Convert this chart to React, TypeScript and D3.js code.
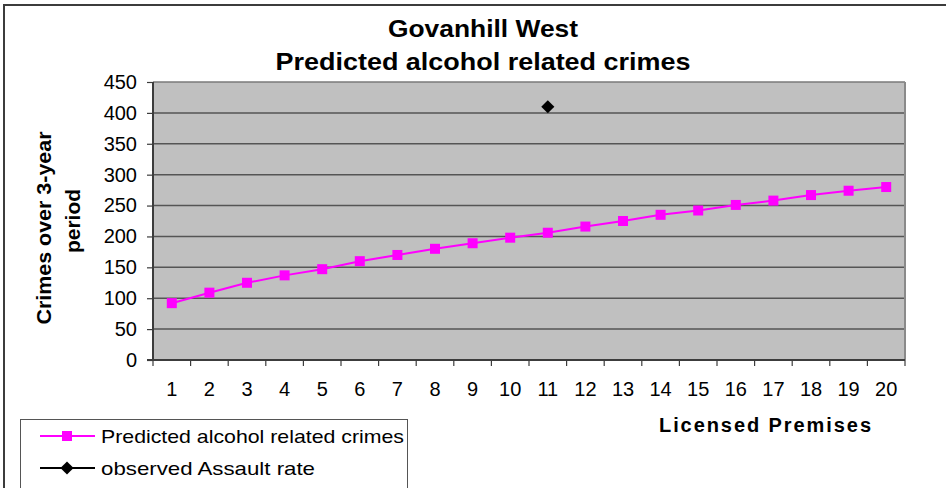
import React, { useEffect, useRef } from 'react';
import * as d3 from 'd3';

// Licensed premises on the x axis
const premises = [1, 2, 3, 4, 5, 6, 7, 8, 9, 10, 11, 12, 13, 14, 15, 16, 17, 18, 19, 20];

// Predicted alcohol related crimes per number of premises
const predicted = [92, 109, 125, 137, 147, 160, 170, 180, 189, 198, 206, 216, 225, 235, 242, 251, 258, 267, 274, 280];

// observed Assault rate (single point)
const observedPremises = [11];
const observedValues = [410];

const yTicks = [0, 50, 100, 150, 200, 250, 300, 350, 400, 450];

const FONT = "'Liberation Sans', Arial, sans-serif";

const App: React.FC = () => {
  const svgRef = useRef<SVGSVGElement>(null);

  useEffect(() => {
    if (!svgRef.current) return;
    const width = 946;
    const height = 488;
    const plot = { left: 153, right: 905, top: 82, bottom: 360 };

    const svg = d3.select(svgRef.current);
    svg.selectAll('*').remove();
    svg.attr('width', width).attr('height', height);

    // chart background + outer border (runs off right/bottom)
    svg.append('rect').attr('width', width).attr('height', height).attr('fill', '#ffffff');
    svg.append('rect')
      .attr('x', 4).attr('y', 5)
      .attr('width', width + 10).attr('height', height + 10)
      .attr('fill', 'none').attr('stroke', '#3c3c3c').attr('stroke-width', 2);

    const x = d3.scaleBand<number>()
      .domain(premises)
      .range([plot.left, plot.right]);
    const y = d3.scaleLinear()
      .domain([0, 450])
      .range([plot.bottom, plot.top]);
    const cx = (d: number) => (x(d) ?? 0) + x.bandwidth() / 2;

    // plot area
    svg.append('rect')
      .attr('x', plot.left).attr('y', plot.top)
      .attr('width', plot.right - plot.left).attr('height', plot.bottom - plot.top)
      .attr('fill', '#c0c0c0');

    // gridlines
    svg.append('g')
      .selectAll('line')
      .data(yTicks.filter(t => t > 0))
      .join('line')
      .attr('x1', plot.left).attr('x2', plot.right)
      .attr('y1', d => y(d)).attr('y2', d => y(d))
      .attr('stroke', d => (d === 450 ? '#7a7a7a' : '#555555'))
      .attr('stroke-width', 1.5);

    // right border of plot
    svg.append('line')
      .attr('x1', plot.right).attr('x2', plot.right)
      .attr('y1', plot.top).attr('y2', plot.bottom)
      .attr('stroke', '#8a8a8a').attr('stroke-width', 2);

    // Y axis
    const yAxis = svg.append('g')
      .attr('transform', `translate(${plot.left},0)`)
      .call(d3.axisLeft(y).tickValues(yTicks).tickSize(6).tickPadding(10));
    yAxis.select('.domain').remove();
    yAxis.selectAll('line').attr('stroke', '#3c3c3c').attr('stroke-width', 1.2);
    yAxis.selectAll('text')
      .attr('fill', '#000')
      .style('font-family', FONT)
      .style('font-size', '20px');
    svg.append('line')
      .attr('x1', plot.left).attr('x2', plot.left)
      .attr('y1', plot.top).attr('y2', plot.bottom)
      .attr('stroke', '#3c3c3c').attr('stroke-width', 2);

    // X axis labels
    const xAxis = svg.append('g')
      .attr('transform', `translate(0,${plot.bottom})`)
      .call(d3.axisBottom(x).tickSize(0).tickPadding(22));
    xAxis.select('.domain').remove();
    xAxis.selectAll('text')
      .attr('fill', '#000')
      .style('font-family', FONT)
      .style('font-size', '20px');

    // x tick marks at category boundaries
    const bounds = premises.map(d => x(d) ?? 0).concat([plot.right]);
    svg.append('g')
      .selectAll('line')
      .data(bounds)
      .join('line')
      .attr('x1', d => d).attr('x2', d => d)
      .attr('y1', plot.bottom).attr('y2', plot.bottom + 6)
      .attr('stroke', '#3c3c3c').attr('stroke-width', 1.2);
    svg.append('line')
      .attr('x1', plot.left - 6).attr('x2', plot.right)
      .attr('y1', plot.bottom).attr('y2', plot.bottom)
      .attr('stroke', '#3c3c3c').attr('stroke-width', 2);

    // predicted series
    const line = d3.line<number>()
      .x((_, i) => cx(premises[i]))
      .y(d => y(d));
    svg.append('path')
      .datum(predicted)
      .attr('fill', 'none')
      .attr('stroke', '#ff00ff')
      .attr('stroke-width', 2)
      .attr('d', line);
    svg.append('g')
      .selectAll('rect')
      .data(predicted)
      .join('rect')
      .attr('x', (_, i) => cx(premises[i]) - 5)
      .attr('y', d => y(d) - 5)
      .attr('width', 10).attr('height', 10)
      .attr('fill', '#ff00ff');

    // observed point
    const diamond = d3.symbol().type(d3.symbolDiamond2).size(110);
    svg.append('g')
      .selectAll('path')
      .data(observedValues)
      .join('path')
      .attr('transform', (d, i) => `translate(${cx(observedPremises[i])},${y(d)})`)
      .attr('d', diamond)
      .attr('fill', '#000');

    // titles
    const title = svg.append('g')
      .style('font-family', FONT)
      .style('font-weight', 'bold')
      .style('font-size', '24px')
      .attr('text-anchor', 'middle');
    title.append('text').attr('x', 483).attr('y', 37)
      .attr('textLength', 190).attr('lengthAdjust', 'spacingAndGlyphs')
      .text('Govanhill West');
    title.append('text').attr('x', 483).attr('y', 70)
      .attr('textLength', 415).attr('lengthAdjust', 'spacingAndGlyphs')
      .text('Predicted alcohol related crimes');

    // y axis title
    const yTitle = svg.append('g')
      .style('font-family', FONT)
      .style('font-weight', 'bold')
      .style('font-size', '21px')
      .attr('text-anchor', 'middle');
    yTitle.append('text')
      .attr('transform', 'translate(51,228) rotate(-90)')
      .attr('textLength', 193).attr('lengthAdjust', 'spacingAndGlyphs')
      .text('Crimes over 3-year');
    yTitle.append('text')
      .attr('transform', 'translate(80,221) rotate(-90)')
      .text('period');

    // x axis title
    svg.append('text')
      .attr('x', 765).attr('y', 432)
      .attr('text-anchor', 'middle')
      .style('font-family', FONT)
      .style('font-weight', 'bold')
      .style('font-size', '20px')
      .attr('textLength', 212).attr('lengthAdjust', 'spacing')
      .text('Licensed Premises');

    // legend
    const legend = svg.append('g');
    legend.append('rect')
      .attr('x', 20.5).attr('y', 419.5)
      .attr('width', 387).attr('height', 100)
      .attr('fill', '#fff').attr('stroke', '#555').attr('stroke-width', 1);
    const rows = [
      { label: 'Predicted alcohol related crimes', color: '#ff00ff', len: 303, y: 436 },
      { label: 'observed Assault rate', color: '#000000', len: 214, y: 468 }
    ];
    rows.forEach((r, i) => {
      legend.append('line')
        .attr('x1', 40).attr('x2', 95)
        .attr('y1', r.y).attr('y2', r.y)
        .attr('stroke', r.color).attr('stroke-width', 2);
      if (i === 0) {
        legend.append('rect')
          .attr('x', 62).attr('y', r.y - 5)
          .attr('width', 10).attr('height', 10)
          .attr('fill', r.color);
      } else {
        legend.append('path')
          .attr('transform', `translate(67,${r.y})`)
          .attr('d', diamond)
          .attr('fill', r.color);
      }
      legend.append('text')
        .attr('x', 101).attr('y', r.y + 7)
        .style('font-family', FONT)
        .style('font-size', '19px')
        .attr('textLength', r.len).attr('lengthAdjust', 'spacingAndGlyphs')
        .text(r.label);
    });
  }, []);

  return (
    <svg ref={svgRef} style={{ position: 'absolute', left: 0, top: 0, display: 'block' }} />
  );
};

export default App;
